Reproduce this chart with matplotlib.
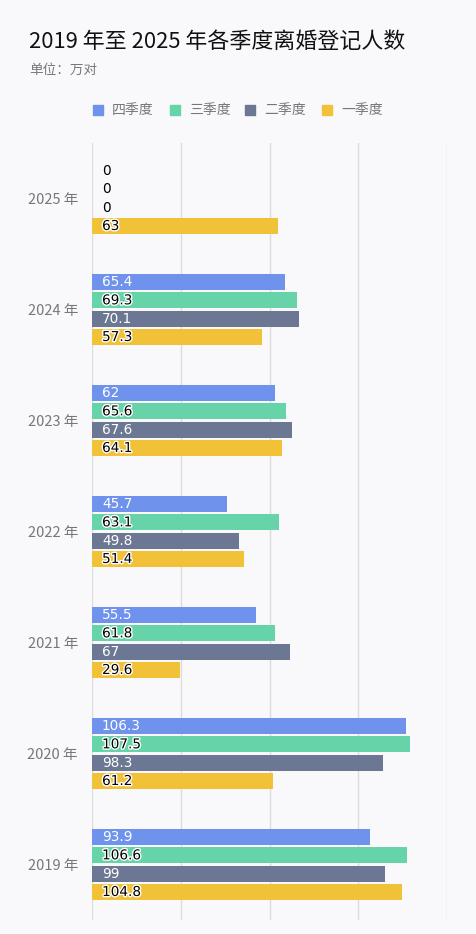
import numpy as np
import matplotlib.pyplot as plt
import matplotlib.patheffects as pe
from matplotlib.patches import Rectangle

plt.rcParams['font.family'] = ['Noto Sans CJK SC', 'DejaVu Sans']

years = ['2025 年', '2024 年', '2023 年', '2022 年', '2021 年', '2020 年', '2019 年']
quarters = ['四季度', '三季度', '二季度', '一季度']
q4 = [0, 65.4, 62, 45.7, 55.5, 106.3, 93.9]
q3 = [0, 69.3, 65.6, 63.1, 61.8, 107.5, 106.6]
q2 = [0, 70.1, 67.6, 49.8, 67, 98.3, 99]
q1 = [63, 57.3, 64.1, 51.4, 29.6, 61.2, 104.8]

colors = ['#6f93ec', '#66d4a8', '#6c7893', '#f1c138']
label_colors = ['white', 'black', 'white', 'black']
bg = '#f9f8fb'

fig = plt.figure(figsize=(4.76, 9.34), dpi=100, facecolor=bg)
ax = fig.add_axes([92/476, 1-920/934, (447-92)/476, (920-143)/934], facecolor=bg)

y = np.arange(len(years))
step = 0.165
h = 0.145
series = [q4, q3, q2, q1]
for i, vals in enumerate(series):
    off = (i - 1.5) * step
    ax.barh(y + off, vals, height=h, color=colors[i], zorder=2)
    for yy, v in zip(y, vals):
        txt = ax.text(3.4, yy + off, f'{v:g}', va='center', ha='left',
                      fontsize=9.8, color=label_colors[i] if v else 'black',
                      family=['DejaVu Sans'], zorder=3)
        if label_colors[i] == 'black' and v:
            txt.set_path_effects([pe.withStroke(linewidth=2, foreground='white')])

ax.set_xlim(0, 120)
ax.set_ylim(len(years) - 0.5, -0.5)
ax.set_xticks([0, 30, 60, 90, 120])
ax.set_xticklabels([])
ax.tick_params(axis='x', length=0)
ax.grid(axis='x', color='#dcdcdc', linewidth=1, zorder=0)
ax.set_yticks(y)
ax.set_yticklabels(years, color='#777777', fontsize=10.5)
ax.tick_params(axis='y', length=0, pad=10)
for s in ax.spines.values():
    s.set_visible(False)

fig.text(29/476, 1-42/934, '2019 年至 2025 年各季度离婚登记人数', fontsize=15.8,
         color='#111111', va='center', ha='left')
fig.text(29/476, 1-70/934, '单位：万对', fontsize=9.8, color='#777777', va='center', ha='left')

# legend
lx = [93, 170, 245, 322]
for i, q in enumerate(quarters):
    fig.patches.append(Rectangle((lx[i]/476, 1-115/934), 10/476, 10/934,
                                 transform=fig.transFigure, color=colors[i]))
    fig.text((lx[i] + 19)/476, 1-110/934, q, fontsize=10, color='#777777',
             va='center', ha='left')

fig.savefig('out.png', dpi=100, facecolor=bg)
